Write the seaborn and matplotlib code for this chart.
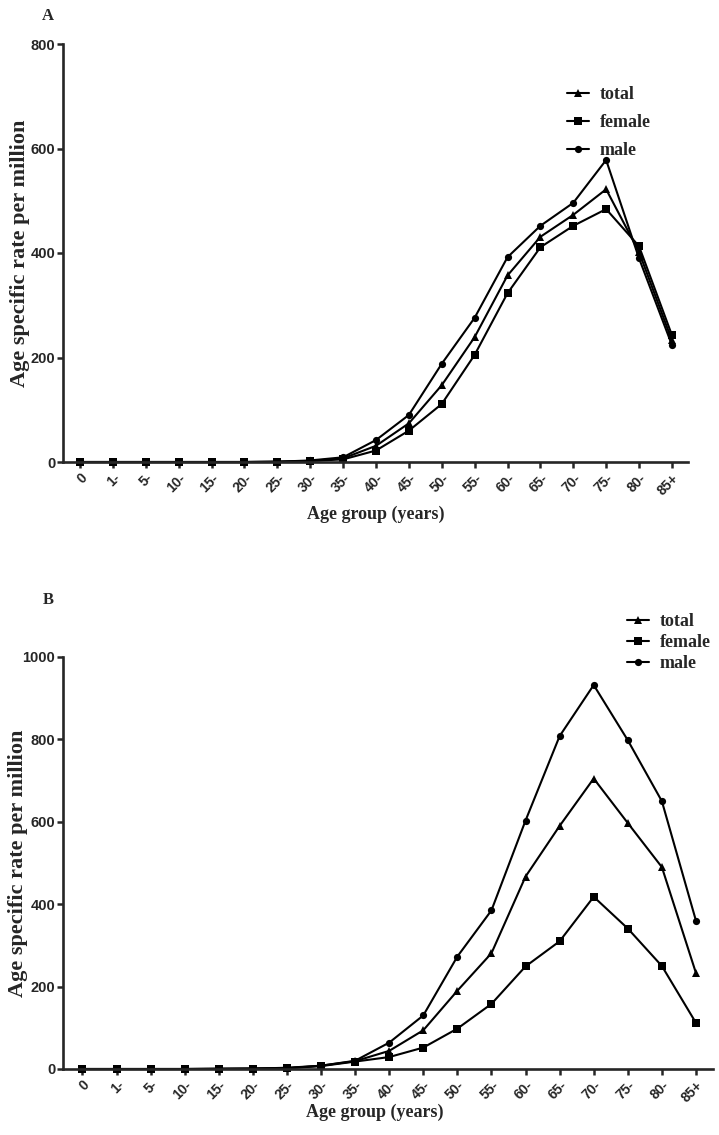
"""
plot.py
-------
Age specific rate per million by age group, two panels (A, B),
total / female / male series drawn with seaborn line plots.
"""

import pandas as pd
import matplotlib.pyplot as plt
import seaborn as sns
from matplotlib.lines import Line2D

FIG_W, FIG_H = 719, 1135
DPI = 100

AGE_GROUPS = ["0", "1-", "5-", "10-", "15-", "20-", "25-", "30-", "35-", "40-",
              "45-", "50-", "55-", "60-", "65-", "70-", "75-", "80-", "85+"]
GROUPS = ["total", "female", "male"]

# --- Panel A ---
A_TOTAL = [0, 0, 0, 0, 0, 0, 0.5, 2, 7, 31, 74, 147, 239, 357, 431, 473, 522, 402, 233]
A_FEMALE = [0, 0, 0, 0, 0, 0, 0.5, 2, 5, 22, 60, 111, 205, 323, 411, 452, 484, 413, 243]
A_MALE = [0, 0, 0, 0, 0, 0, 0.5, 3, 9, 42, 90, 188, 276, 392, 452, 496, 578, 390, 224]
A_YTICKS = [0, 200, 400, 600, 800]

# --- Panel B ---
B_TOTAL = [0, 0, 0, 0, 0.5, 1, 2, 8, 19, 44, 94, 190, 281, 467, 590, 705, 597, 490, 233]
B_FEMALE = [0, 0, 0, 0, 0.5, 1, 2, 7, 18, 29, 52, 98, 158, 249, 310, 418, 341, 250, 112]
B_MALE = [0, 0, 0, 0, 0.5, 1, 3, 8, 20, 64, 130, 273, 385, 603, 808, 932, 798, 650, 360]
B_YTICKS = [0, 200, 400, 600, 800, 1000]

MARKERS = {"total": "^", "female": "s", "male": "o"}
MARKER_SIZE = {"^": 5.6, "s": 5.2, "o": 5.2}

SANS = ["Liberation Sans", "DejaVu Sans"]
SERIF = ["Liberation Serif", "DejaVu Serif"]


def build_frame(total, female, male):
    rows = []
    for name, values in zip(GROUPS, [total, female, male]):
        for i, v in enumerate(values):
            rows.append({"age": i, "rate": v, "group": name})
    return pd.DataFrame(rows)


def px_rect(left, right, top, bottom):
    """axes rect from pixel edges (top-left origin)"""
    return [left / FIG_W, 1 - bottom / FIG_H, (right - left) / FIG_W, (bottom - top) / FIG_H]


def draw_panel(fig, rect, df, xlim, yticks, legend_xy, label_spacing):
    ax = fig.add_axes(rect)
    sns.lineplot(data=df, x="age", y="rate", hue="group", style="group",
                 hue_order=GROUPS, style_order=GROUPS,
                 palette=["black"] * 3, markers=MARKERS, dashes=False,
                 linewidth=1.5, markeredgewidth=0, legend=False, ax=ax)
    for line in ax.lines:
        line.set_markersize(MARKER_SIZE[line.get_marker()])
        line.set_clip_on(False)

    ax.set_xlim(*xlim)
    ax.set_ylim(yticks[0], yticks[-1])
    ax.set_yticks(yticks)
    ax.set_yticklabels([str(t) for t in yticks], family=SANS, weight="bold", fontsize=10.5)
    ax.set_xticks(range(len(AGE_GROUPS)))
    ax.set_xticklabels(AGE_GROUPS, family=SANS, weight="bold", fontsize=10,
                       rotation=45, ha="right", va="top", rotation_mode="anchor")
    ax.tick_params(direction="out", length=4, width=1.8, pad=1.5)
    ax.tick_params(axis="x", pad=2.5)

    sns.despine(ax=ax)
    for side in ["left", "bottom"]:
        ax.spines[side].set_linewidth(1.9)

    ax.set_xlabel("Age group (years)", family=SERIF, weight="bold", fontsize=13)
    ax.set_ylabel("Age specific rate per million", family=SERIF, weight="bold", fontsize=16)

    handles = [Line2D([], [], color="black", lw=1.5, marker=MARKERS[g],
                      markersize=MARKER_SIZE[MARKERS[g]], markeredgewidth=0) for g in GROUPS]
    ax.legend(handles, GROUPS, loc="upper left",
              bbox_to_anchor=(legend_xy[0] / FIG_W, 1 - legend_xy[1] / FIG_H),
              bbox_transform=fig.transFigure, frameon=False, borderpad=0,
              borderaxespad=0, handlelength=1.2, handletextpad=0.6,
              labelspacing=label_spacing,
              prop={"family": SERIF, "weight": "bold", "size": 13})
    return ax


sns.set_style("ticks")
plt.rcParams["font.family"] = SANS

fig = plt.figure(figsize=(FIG_W / DPI, FIG_H / DPI), dpi=DPI)

df_a = build_frame(A_TOTAL, A_FEMALE, A_MALE)
ax_a = draw_panel(fig, px_rect(63, 688, 44, 462), df_a, (-0.52, 18.49),
                  A_YTICKS, (567, 86), 0.62)
ax_a.xaxis.set_label_coords(0.5, -0.105)
ax_a.yaxis.set_label_coords(-0.053, 0.5)

df_b = build_frame(B_TOTAL, B_FEMALE, B_MALE)
ax_b = draw_panel(fig, px_rect(63, 713, 657, 1069), df_b, (-0.57, 18.5),
                  B_YTICKS, (627, 613), 0.22)
ax_b.xaxis.set_label_coords(0.48, -0.083)
ax_b.yaxis.set_label_coords(-0.054, 0.5)

fig.text(48 / FIG_W, 1 - 16 / FIG_H, "A", family=SERIF, weight="bold", fontsize=12,
         ha="center", va="center")
fig.text(48 / FIG_W, 1 - 600 / FIG_H, "B", family=SERIF, weight="bold", fontsize=12,
         ha="center", va="center")

fig.savefig("out.png", dpi=DPI)
plt.close(fig)
